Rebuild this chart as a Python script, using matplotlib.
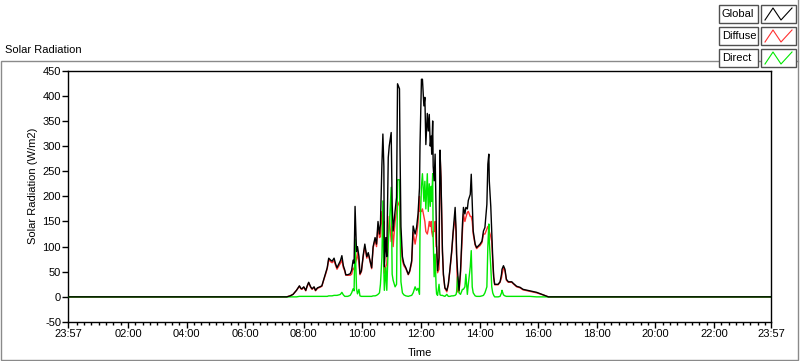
import matplotlib.pyplot as plt
from matplotlib.patches import Rectangle
from matplotlib.lines import Line2D
from matplotlib.ticker import FixedLocator

# minutes after midnight (-3 = 23:57 of the previous day)
minute_of_day = [-3, 445, 452, 458, 465, 471, 474, 476, 480, 484, 487, 490, 494, 497, 501, 504,
                 508, 513, 517, 521, 525, 528, 531, 535, 538, 542, 545, 548, 552, 555, 558, 561,
                 564, 566, 570, 575, 578, 581, 583, 585, 588, 590, 593, 595, 598, 602, 605, 609,
                 612, 615, 619, 622, 626, 629, 632, 635, 637, 640, 642, 644, 645, 648, 650, 653,
                 655, 659, 661, 663, 667, 670, 672, 676, 677, 679, 682, 685, 689, 694, 697, 701,
                 704, 708, 711, 714, 717, 718, 721, 723, 726, 728, 730, 733, 735, 737, 739, 741,
                 742, 744, 745, 747, 749, 751, 752, 754, 757, 759, 761, 764, 766, 769, 773, 776,
                 779, 783, 786, 790, 792, 793, 795, 798, 801, 805, 807, 810, 812, 815, 817, 821,
                 823, 825, 827, 831, 834, 838, 841, 845, 848, 851, 855, 857, 859, 860, 863, 865,
                 867, 869, 871, 878, 882, 885, 886, 889, 892, 895, 899, 906, 909, 916, 923, 929,
                 943, 957, 970, 981, 1437]

global_rad = [0, 0, 2, 5, 13, 22, 17, 16, 20, 13, 22, 29, 20, 16, 20, 13,
              18, 20, 22, 35, 48, 58, 77, 73, 71, 77, 66, 58, 66, 72, 82, 62,
              53, 44, 44, 46, 53, 73, 67, 180, 90, 100, 80, 46, 52, 85, 105, 80,
              88, 75, 58, 100, 118, 105, 150, 125, 145, 264, 324, 260, 60, 118, 80, 277,
              300, 327, 184, 131, 171, 198, 424, 414, 300, 140, 80, 66, 58, 45, 52, 72,
              141, 125, 138, 165, 217, 300, 433, 433, 380, 397, 303, 365, 330, 363, 300, 320,
              284, 350, 260, 231, 284, 165, 105, 52, 78, 292, 237, 92, 45, 18, 13, 25,
              52, 92, 131, 178, 131, 85, 50, 13, 52, 145, 178, 165, 178, 175, 192, 204,
              244, 185, 131, 105, 98, 102, 105, 111, 131, 138, 184, 264, 284, 230, 180, 131,
              78, 40, 25, 25, 30, 45, 55, 62, 55, 35, 30, 30, 27, 21, 19, 15,
              12, 9, 4, 0, 0]

diffuse_rad = [0, 0, 2, 5, 13, 21, 16, 15, 19, 12, 21, 28, 19, 15, 19, 12,
               17, 19, 21, 34, 46, 56, 74, 70, 68, 72, 63, 55, 62, 67, 73, 58,
               51, 43, 43, 43, 45, 57, 55, 65, 75, 88, 66, 44, 50, 82, 100, 77,
               86, 73, 56, 97, 114, 100, 140, 118, 120, 170, 135, 150, 47, 60, 66, 120,
               160, 110, 140, 100, 150, 170, 190, 180, 150, 110, 72, 62, 56, 44, 50, 68,
               128, 105, 122, 148, 200, 170, 170, 175, 160, 150, 130, 125, 135, 150, 140, 150,
               130, 120, 130, 130, 150, 100, 100, 48, 55, 288, 232, 88, 43, 17, 10, 24,
               50, 88, 127, 160, 125, 80, 10, 10, 45, 130, 165, 150, 158, 168, 170, 160,
               160, 150, 125, 103, 96, 100, 102, 108, 125, 125, 135, 140, 135, 130, 120, 110,
               70, 37, 24, 24, 29, 38, 45, 58, 52, 33, 29, 29, 26, 20, 18, 14,
               11, 8, 4, 0, 0]

direct_rad = [0, 0, 0, 0, 0, 1, 1, 1, 1, 1, 1, 1, 1, 1, 1, 1,
              1, 1, 1, 1, 1, 1, 2, 2, 2, 3, 3, 3, 4, 5, 9, 4,
              1, 1, 1, 3, 8, 16, 12, 115, 16, 6, 15, 2, 1, 1, 1, 1,
              1, 1, 1, 2, 2, 3, 5, 8, 25, 78, 191, 50, 13, 58, 13, 105,
              138, 218, 45, 33, 20, 25, 233, 233, 150, 30, 8, 4, 2, 1, 2, 3,
              8, 20, 13, 17, 5, 130, 220, 245, 190, 230, 175, 245, 170, 225, 180, 220,
              190, 245, 118, 40, 85, 20, 6, 3, 25, 4, 3, 3, 2, 1, 5, 1,
              1, 2, 2, 3, 5, 10, 40, 8, 5, 15, 15, 20, 45, 5, 25, 60,
              92, 20, 8, 2, 1, 1, 1, 2, 3, 8, 20, 100, 145, 110, 60, 20,
              8, 3, 0, 0, 1, 8, 13, 4, 2, 1, 1, 1, 1, 1, 1, 1,
              1, 0, 0, 0, 0]

tick_minutes = [-3, 120, 240, 360, 480, 600, 720, 840, 960, 1080, 1200, 1320, 1437]
tick_labels = ['23:57', '02:00', '04:00', '06:00', '08:00', '10:00', '12:00',
               '14:00', '16:00', '18:00', '20:00', '22:00', '23:57']
series_names = ['Global', 'Diffuse', 'Direct']
series_colors = ['#000000', '#ff3030', '#00e800']

plt.rcParams['font.family'] = ['Liberation Sans', 'DejaVu Sans']
plt.rcParams['font.size'] = 8
plt.rcParams['axes.unicode_minus'] = False

W, H = 800, 361
fig = plt.figure(figsize=(W / 100, H / 100), dpi=100)
fig.patch.set_facecolor('white')


def fx(px):
    return px / W


def fy(py):
    return 1 - py / H


# outer frame of the graph
fig.add_artist(Rectangle((fx(1), fy(360)), fx(797), 299 / H, transform=fig.transFigure,
                         fill=False, edgecolor='#8a8a8a', lw=1, zorder=0))
fig.add_artist(Line2D([fx(798), fx(798)], [fy(0), fy(61)], transform=fig.transFigure,
                      color='#8a8a8a', lw=1))

ax = fig.add_axes([fx(68), fy(322), fx(771) - fx(68), fy(70.7) - fy(322)])
ax.plot(minute_of_day, diffuse_rad, color=series_colors[1], lw=1, zorder=2)
ax.plot(minute_of_day, direct_rad, color=series_colors[2], lw=1, zorder=3)
ax.plot(minute_of_day, global_rad, color=series_colors[0], lw=1, zorder=4)

ax.set_xlim(-3, 1437)
ax.set_ylim(-50, 450)
ax.set_yticks(range(-50, 451, 50))
ax.set_xticks(tick_minutes)
ax.set_xticklabels(tick_labels)
minor = [m for m in range(0, 1437, 15) if m % 120 != 0]
ax.xaxis.set_minor_locator(FixedLocator(minor))
ax.tick_params(axis='both', which='major', direction='out', length=4, width=1,
               labelsize=8, pad=1, colors='black')
ax.tick_params(axis='x', which='minor', direction='out', length=2.5, width=1)
for s in ax.spines.values():
    s.set_linewidth(1)
    s.set_color('black')

fig.text(fx(5), fy(50), 'Solar Radiation', ha='left', va='center', fontsize=8)
fig.text(fx(33), fy(186), 'Solar Radiation (W/m2)', rotation=90, ha='center',
         va='center', fontsize=8)
fig.text(fx(420), fy(353), 'Time', ha='center', va='center', fontsize=8)

# plot legend, top right
row_tops = [5, 27, 49]
for name, color, top in zip(series_names, series_colors, row_tops):
    fig.add_artist(Rectangle((fx(719), fy(top + 18)), 39 / W, 18 / H,
                             transform=fig.transFigure, facecolor='white',
                             edgecolor='#505050', lw=1, zorder=5))
    fig.add_artist(Rectangle((fx(761), fy(top + 18)), 35 / W, 18 / H,
                             transform=fig.transFigure, facecolor='white',
                             edgecolor='#505050', lw=1, zorder=5))
    fig.text(fx(722), fy(top + 9), name, ha='left', va='center', fontsize=8, zorder=6)
    zx = [765, 773, 781, 792]
    zy = [top + 15, top + 3, top + 15, top + 3]
    fig.add_artist(Line2D([fx(v) for v in zx], [fy(v) for v in zy],
                          transform=fig.transFigure, color=color, lw=0.8, zorder=6))

fig.savefig('out.png', dpi=100)
